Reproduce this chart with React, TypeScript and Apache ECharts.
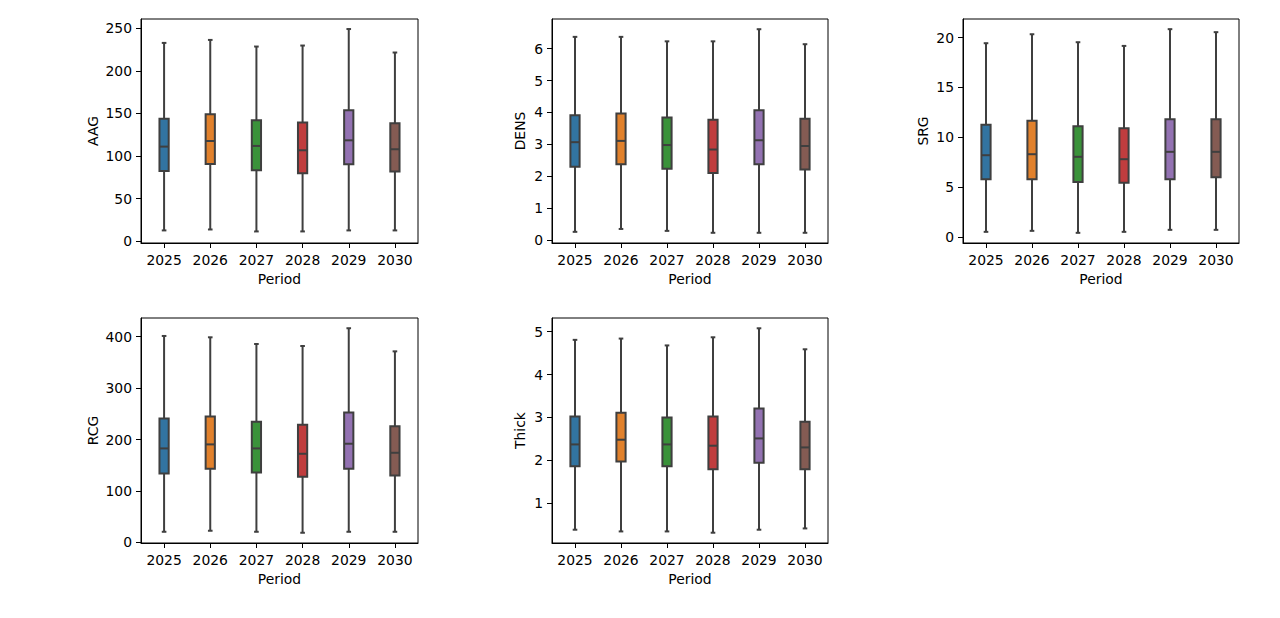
import React, { useEffect, useRef } from "react";
import * as echarts from "echarts";

const categories = ["2025", "2026", "2027", "2028", "2029", "2030"];
const boxColors = ["#3274a1", "#e1812c", "#3a923a", "#c03d3e", "#9372b2", "#845b53"];

// each row: [whisker low, Q1, median, Q3, whisker high]
const AAG = [
  [12.5, 82.2, 111.0, 143.7, 232.9],
  [13.6, 90.7, 117.6, 149.1, 236.4],
  [11.3, 83.3, 111.8, 142.1, 228.6],
  [11.3, 79.8, 106.7, 139.4, 229.8],
  [12.5, 90.3, 118.4, 153.8, 249.2],
  [12.5, 81.8, 107.9, 138.6, 221.6],
];
const DENS = [
  [0.26, 2.3, 3.07, 3.91, 6.37],
  [0.35, 2.38, 3.11, 3.97, 6.37],
  [0.29, 2.24, 2.98, 3.84, 6.23],
  [0.23, 2.1, 2.84, 3.77, 6.23],
  [0.23, 2.38, 3.13, 4.07, 6.61],
  [0.23, 2.21, 2.95, 3.8, 6.14],
];
const SRG = [
  [0.5, 5.79, 8.19, 11.24, 19.43],
  [0.6, 5.79, 8.29, 11.64, 20.33],
  [0.4, 5.49, 8.03, 11.1, 19.53],
  [0.5, 5.42, 7.79, 10.9, 19.16],
  [0.7, 5.79, 8.53, 11.81, 20.84],
  [0.7, 5.99, 8.53, 11.81, 20.54],
];
const RCG = [
  [20.8, 134.0, 182.8, 240.7, 401.3],
  [22.8, 143.1, 190.6, 244.6, 398.7],
  [20.8, 135.9, 182.8, 234.8, 385.7],
  [18.9, 127.5, 172.4, 228.9, 381.8],
  [20.8, 143.1, 191.9, 252.4, 416.3],
  [20.8, 130.1, 174.3, 225.7, 371.4],
];
const THICK = [
  [0.38, 1.86, 2.37, 3.02, 4.81],
  [0.34, 1.97, 2.48, 3.11, 4.84],
  [0.34, 1.86, 2.37, 3.0, 4.68],
  [0.31, 1.79, 2.34, 3.02, 4.87],
  [0.38, 1.94, 2.51, 3.21, 5.08],
  [0.41, 1.79, 2.3, 2.9, 4.59],
];

const aagTicks = [0, 50, 100, 150, 200, 250];
const densTicks = [0, 1, 2, 3, 4, 5, 6];
const srgTicks = [0, 5, 10, 15, 20];
const rcgTicks = [0, 100, 200, 300, 400];
const thickTicks = [1, 2, 3, 4, 5];

const xName = "Period";

const panels = [
  { name: "AAG", rows: AAG, ticks: aagTicks, min: -2.3, max: 261, rect: [141, 19, 277, 224], gap: 41 },
  { name: "DENS", rows: DENS, ticks: densTicks, min: -0.09, max: 6.93, rect: [552, 19, 276, 224], gap: 25 },
  { name: "SRG", rows: SRG, ticks: srgTicks, min: -0.62, max: 21.86, rect: [963, 19, 276, 224], gap: 33 },
  { name: "RCG", rows: RCG, ticks: rcgTicks, min: -1, max: 436.2, rect: [141, 318, 277, 225], gap: 41 },
  { name: "Thick", rows: THICK, ticks: thickTicks, min: 0.07, max: 5.32, rect: [552, 318, 276, 225], gap: 25 },
];

const FONT = "DejaVu Sans";
const EDGE = "#3f3f3f";

export default function App() {
  const ref = useRef<HTMLDivElement>(null);
  useEffect(() => {
    document.body.style.margin = "0";
    if (!ref.current) return;
    const chart = echarts.init(ref.current, null, { renderer: "svg" });

    const grid: any[] = [];
    const xAxis: any[] = [];
    const yAxis: any[] = [];
    const series: any[] = [];

    panels.forEach((p, gi) => {
      grid.push({
        left: p.rect[0],
        top: p.rect[1],
        width: p.rect[2],
        height: p.rect[3],
        show: true,
        borderColor: "#000",
        borderWidth: 1,
        backgroundColor: "transparent",
        containLabel: false,
        outerBoundsMode: "none",
      });
      xAxis.push({
        type: "category",
        gridIndex: gi,
        data: categories,
        boundaryGap: true,
        name: xName,
        nameLocation: "middle",
        nameGap: 29,
        nameTextStyle: { fontFamily: FONT, fontSize: 13.9, color: "#000" },
        axisLine: { show: true, onZero: false, lineStyle: { color: "#000", width: 1 } },
        axisTick: { show: true, alignWithLabel: true, length: 5, lineStyle: { color: "#000", width: 1 } },
        axisLabel: { margin: 10, fontFamily: FONT, fontSize: 13.9, color: "#000" },
        splitLine: { show: false },
      });
      yAxis.push({
        type: "value",
        gridIndex: gi,
        min: p.min,
        max: p.max,
        name: p.name,
        nameLocation: "middle",
        nameGap: p.gap,
        nameRotate: 90,
        nameTextStyle: { fontFamily: FONT, fontSize: 13.9, color: "#000" },
        axisLine: { show: true, onZero: false, lineStyle: { color: "#000", width: 1 } },
        axisTick: { show: true, length: 5, customValues: p.ticks, lineStyle: { color: "#000", width: 1 } },
        axisLabel: { margin: 9, fontFamily: FONT, fontSize: 13.9, color: "#000", customValues: p.ticks, showMinLabel: true, showMaxLabel: true },
        splitLine: { show: false },
      });
      series.push({
        type: "custom",
        xAxisIndex: gi,
        yAxisIndex: gi,
        data: p.rows.map((r, i) => [i, ...r]),
        encode: { x: 0, y: [1, 2, 3, 4, 5] },
        renderItem: (params: any, api: any) => {
          const idx = api.value(0);
          const band = api.size([1, 0])[0];
          const bw = band * 0.2;
          const cw = band * 0.1;
          const pLow = api.coord([idx, api.value(1)]);
          const pQ1 = api.coord([idx, api.value(2)]);
          const pMed = api.coord([idx, api.value(3)]);
          const pQ3 = api.coord([idx, api.value(4)]);
          const pHigh = api.coord([idx, api.value(5)]);
          const cx = pLow[0];
          const ls = { stroke: EDGE, lineWidth: 2, fill: null };
          return {
            type: "group",
            children: [
              { type: "line", shape: { x1: cx, y1: pLow[1], x2: cx, y2: pQ1[1] }, style: ls },
              { type: "line", shape: { x1: cx, y1: pQ3[1], x2: cx, y2: pHigh[1] }, style: ls },
              { type: "line", shape: { x1: cx - cw / 2, y1: pLow[1], x2: cx + cw / 2, y2: pLow[1] }, style: ls },
              { type: "line", shape: { x1: cx - cw / 2, y1: pHigh[1], x2: cx + cw / 2, y2: pHigh[1] }, style: ls },
              {
                type: "rect",
                shape: { x: cx - bw / 2, y: pQ3[1], width: bw, height: pQ1[1] - pQ3[1] },
                style: { fill: boxColors[idx], stroke: EDGE, lineWidth: 2 },
              },
              { type: "line", shape: { x1: cx - bw / 2, y1: pMed[1], x2: cx + bw / 2, y2: pMed[1] }, style: ls },
            ],
          };
        },
      });
    });

    chart.setOption({
      animation: false,
      backgroundColor: "#fff",
      grid,
      xAxis,
      yAxis,
      series,
    });
    return () => chart.dispose();
  }, []);
  return <div ref={ref} style={{ width: 1280, height: 618 }} />;
}
